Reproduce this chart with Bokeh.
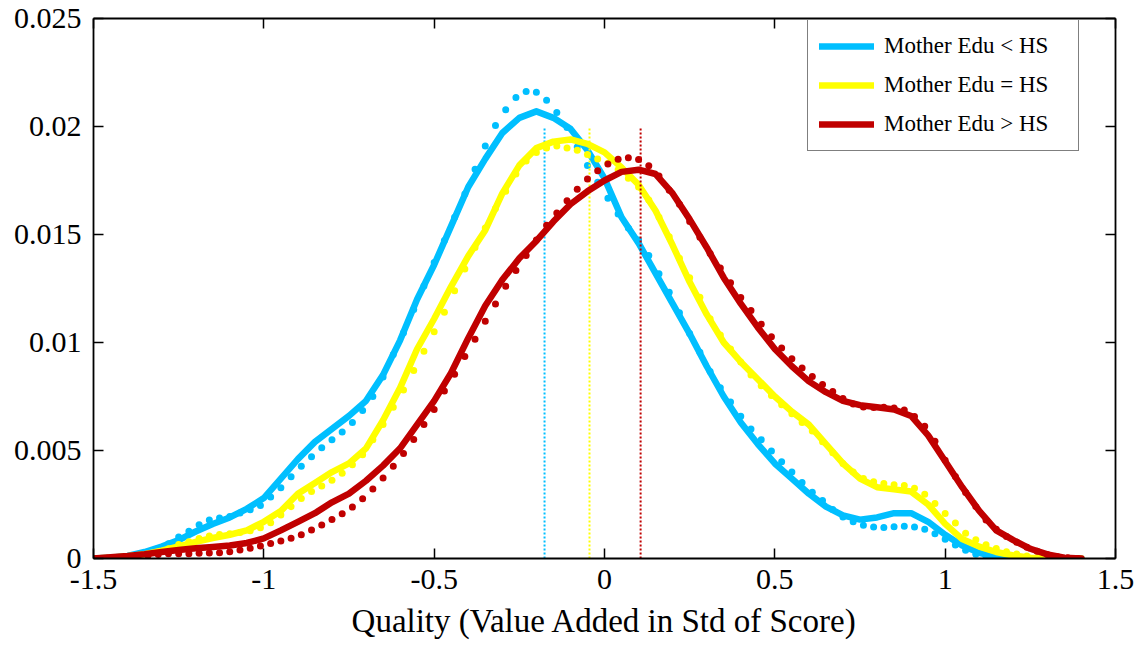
from bokeh.plotting import figure
from bokeh.models import (Range1d, LinearAxis, FixedTicker, CustomJSTickFormatter,
                          Legend, LegendItem)
from bokeh.embed import file_html
from bokeh.resources import INLINE

# ---- data -------------------------------------------------------------
series_labels = ["Mother Edu < HS", "Mother Edu = HS", "Mother Edu > HS"]
series_colors = ["#00BFFF", "#FFFF00", "#C00000"]

# smoothed density, evaluated every 0.05
x_smooth = [-1.50, -1.45, -1.40, -1.35, -1.30, -1.25, -1.20, -1.15, -1.10, -1.05,
            -1.00, -0.95, -0.90, -0.85, -0.80, -0.75, -0.70, -0.65, -0.60, -0.55,
            -0.50, -0.45, -0.40, -0.35, -0.30, -0.25, -0.20, -0.15, -0.10, -0.05,
            0.00, 0.05, 0.10, 0.15, 0.20, 0.25, 0.30, 0.35, 0.40, 0.45,
            0.50, 0.55, 0.60, 0.65, 0.70, 0.75, 0.80, 0.85, 0.90, 0.95,
            1.00, 1.05, 1.10, 1.15, 1.20, 1.25, 1.30, 1.35, 1.40]

smooth_less = [0, 0.00004, 0.00012, 0.0003, 0.00055, 0.00085, 0.00125, 0.0016, 0.0019, 0.0023,
               0.0028, 0.0037, 0.0046, 0.0054, 0.0060, 0.0066, 0.0073, 0.0085, 0.0101, 0.0120,
               0.0136, 0.0154, 0.0172, 0.0185, 0.0197, 0.0204, 0.0207, 0.0204, 0.0199, 0.0189,
               0.0176, 0.0158, 0.0146, 0.0132, 0.0118, 0.0104, 0.0089, 0.0075, 0.0063, 0.0053,
               0.0044, 0.0037, 0.0030, 0.0024, 0.0020, 0.0018, 0.0019, 0.0021, 0.0021, 0.0017,
               0.0011, 0.0006, 0.00026, 0.00007, 0.00001, 0, 0, 0, 0]

smooth_equal = [0, 0.00003, 0.0001, 0.0002, 0.00036, 0.00056, 0.00077, 0.00095, 0.0011, 0.0013,
                0.0017, 0.0022, 0.0030, 0.0035, 0.0040, 0.0044, 0.0051, 0.0064, 0.0079, 0.0097,
                0.0111, 0.0126, 0.0140, 0.0152, 0.0169, 0.0182, 0.0190, 0.0193, 0.0194, 0.0192,
                0.0188, 0.0181, 0.0173, 0.0161, 0.0145, 0.0128, 0.0113, 0.0100, 0.0091, 0.0083,
                0.0075, 0.0068, 0.0062, 0.0053, 0.0044, 0.0037, 0.0033, 0.0032, 0.0031, 0.0025,
                0.0016, 0.0009, 0.00055, 0.0003, 0.00014, 0.00004, 0.00001, 0, 0]

smooth_more = [0, 0.00006, 0.00012, 0.0002, 0.0003, 0.00039, 0.00047, 0.00053, 0.0006, 0.00072,
               0.00093, 0.0013, 0.0017, 0.0021, 0.0026, 0.0030, 0.0036, 0.0043, 0.0051, 0.0062,
               0.0073, 0.0086, 0.0102, 0.0117, 0.0129, 0.0139, 0.0147, 0.0156, 0.0164, 0.0170,
               0.0175, 0.0179, 0.0180, 0.0178, 0.0169, 0.0157, 0.0144, 0.0130, 0.0118, 0.0107,
               0.0097, 0.0089, 0.0082, 0.0077, 0.0073, 0.0071, 0.0070, 0.0069, 0.0066, 0.0057,
               0.0045, 0.0033, 0.0022, 0.0013, 0.00085, 0.00045, 0.00019, 0.00004, 0]

# raw density, evaluated every 0.03
x_raw = [-1.49, -1.46, -1.43, -1.40, -1.37, -1.34, -1.31, -1.28, -1.25, -1.22,
         -1.19, -1.16, -1.13, -1.10, -1.07, -1.04, -1.01, -0.98, -0.95, -0.92,
         -0.89, -0.86, -0.83, -0.80, -0.77, -0.74, -0.71, -0.68, -0.65, -0.62,
         -0.59, -0.56, -0.53, -0.50, -0.47, -0.44, -0.41, -0.38, -0.35, -0.32,
         -0.29, -0.26, -0.23, -0.20, -0.17, -0.14, -0.11, -0.08, -0.05, -0.02,
         0.01, 0.04, 0.07, 0.10, 0.13, 0.16, 0.19, 0.22, 0.25, 0.28,
         0.31, 0.34, 0.37, 0.40, 0.43, 0.46, 0.49, 0.52, 0.55, 0.58,
         0.61, 0.64, 0.67, 0.70, 0.73, 0.76, 0.79, 0.82, 0.85, 0.88,
         0.91, 0.94, 0.97, 1.00, 1.03, 1.06, 1.09, 1.12, 1.15, 1.18,
         1.21, 1.24, 1.27, 1.30, 1.33, 1.36, 1.39]

raw_less = [0, 0, 0.00002, 0.00006, 0.00015, 0.00028, 0.00046, 0.00068, 0.00100, 0.00126,
            0.00156, 0.00178, 0.00188, 0.00194, 0.00211, 0.00226, 0.00245, 0.00285, 0.00327, 0.00378,
            0.00427, 0.00471, 0.00513, 0.00550, 0.00586, 0.00630, 0.00685, 0.00750, 0.00840, 0.00945,
            0.01045, 0.01153, 0.01262, 0.01370, 0.01472, 0.01580, 0.01687, 0.01802, 0.01910, 0.02005,
            0.02077, 0.02134, 0.02162, 0.02158, 0.02122, 0.02065, 0.01995, 0.01905, 0.01820, 0.01742,
            0.01668, 0.01595, 0.01530, 0.01474, 0.01403, 0.01318, 0.01233, 0.01138, 0.01042, 0.00955,
            0.00866, 0.00790, 0.00725, 0.00658, 0.00600, 0.00550, 0.00498, 0.00448, 0.00400, 0.00352,
            0.00307, 0.00268, 0.00227, 0.00192, 0.00170, 0.00154, 0.00146, 0.00144, 0.00147, 0.00149,
            0.00146, 0.00135, 0.00115, 0.00089, 0.00062, 0.00038, 0.00020, 0.00008, 0.00003, 0.00001,
            0, 0, 0, 0, 0, 0, 0]

raw_equal = [0, 0, 0.00003, 0.00007, 0.00013, 0.00020, 0.00030, 0.00045, 0.00065, 0.00078,
             0.00093, 0.00104, 0.00111, 0.00115, 0.00120, 0.00129, 0.00142, 0.00165, 0.00201, 0.00240,
             0.00278, 0.00310, 0.00336, 0.00362, 0.00395, 0.00434, 0.00480, 0.00550, 0.00620, 0.00700,
             0.00780, 0.00870, 0.00960, 0.01050, 0.01140, 0.01240, 0.01340, 0.01440, 0.01530, 0.01620,
             0.01700, 0.01780, 0.01840, 0.01880, 0.01900, 0.01910, 0.01900, 0.01890, 0.01870, 0.01850,
             0.01830, 0.01800, 0.01760, 0.01720, 0.01660, 0.01580, 0.01490, 0.01390, 0.01300, 0.01210,
             0.01110, 0.01035, 0.00970, 0.00910, 0.00850, 0.00800, 0.00755, 0.00712, 0.00670, 0.00630,
             0.00590, 0.00540, 0.00490, 0.00440, 0.00400, 0.00370, 0.00355, 0.00347, 0.00342, 0.00338,
             0.00325, 0.00298, 0.00255, 0.00208, 0.00164, 0.00117, 0.00087, 0.00064, 0.00046, 0.00031,
             0.00021, 0.00011, 0.00004, 0.00001, 0, 0, 0]

raw_more = [0, 0.00001, 0.00003, 0.00005, 0.00009, 0.00014, 0.00018, 0.00022, 0.00022, 0.00022,
            0.00024, 0.00025, 0.00027, 0.00031, 0.00039, 0.00048, 0.00058, 0.00070, 0.00081, 0.00094,
            0.00110, 0.00132, 0.00155, 0.00180, 0.00207, 0.00238, 0.00277, 0.00322, 0.00373, 0.00427,
            0.00486, 0.00551, 0.00620, 0.00690, 0.00775, 0.00853, 0.00935, 0.01015, 0.01098, 0.01178,
            0.01260, 0.01333, 0.01403, 0.01475, 0.01543, 0.01600, 0.01656, 0.01710, 0.01757, 0.01795,
            0.01826, 0.01848, 0.01855, 0.01847, 0.01818, 0.01771, 0.01705, 0.01640, 0.01560, 0.01487,
            0.01412, 0.01345, 0.01277, 0.01208, 0.01148, 0.01085, 0.01027, 0.00975, 0.00925, 0.00882,
            0.00843, 0.00806, 0.00773, 0.00741, 0.00715, 0.00701, 0.00699, 0.00700, 0.00697, 0.00687,
            0.00657, 0.00612, 0.00543, 0.00455, 0.00380, 0.00305, 0.00240, 0.00178, 0.00135, 0.00102,
            0.00075, 0.00052, 0.00033, 0.00018, 0.00008, 0.00003, 0]

# group means, marked by dotted verticals up to mean_marker_top
group_means = [-0.176, -0.044, 0.106]
mean_marker_top = 0.02

x_ticks = [-1.5, -1.0, -0.5, 0.0, 0.5, 1.0, 1.5]
y_ticks = [0.0, 0.005, 0.01, 0.015, 0.02, 0.025]

FONT = "Liberation Serif"

# ---- figure -----------------------------------------------------------
p = figure(width=1138, height=648, output_backend="svg", toolbar_location=None,
           x_range=Range1d(-1.5, 1.5), y_range=Range1d(0, 0.025),
           min_border_left=93, min_border_right=23, min_border_top=18,
           min_border_bottom=90, background_fill_color="white",
           border_fill_color="white")
p.grid.visible = False
p.outline_line_color = None

x_fmt = CustomJSTickFormatter(code="return tick.toFixed(1).replace(/0+$/, '').replace(/\\.$/, '');")
y_fmt = CustomJSTickFormatter(code="return tick.toFixed(3).replace(/0+$/, '').replace(/\\.$/, '');")


def style_axis(ax, ticks, fmt, show_labels, standoff):
    ax.ticker = FixedTicker(ticks=ticks)
    ax.formatter = fmt
    ax.axis_line_color = "black"
    ax.axis_line_width = 1.8
    ax.major_tick_line_color = "black"
    ax.major_tick_line_width = 1.5
    ax.major_tick_in = 10
    ax.major_tick_out = 0
    ax.minor_tick_line_color = None
    ax.major_label_text_font = FONT
    ax.major_label_text_color = "black"
    ax.major_label_standoff = standoff
    if show_labels:
        ax.major_label_text_font_size = "30px"
    else:
        ax.major_label_text_font_size = "0px"
        ax.major_label_text_alpha = 0


xb = p.xaxis[0]
style_axis(xb, x_ticks, x_fmt, True, 11)
xb.axis_label = "Quality (Value Added in Std of Score)"
xb.axis_label_text_font = FONT
xb.axis_label_text_font_size = "33px"
xb.axis_label_text_font_style = "normal"
xb.axis_label_text_color = "black"
xb.axis_label_standoff = 11

yl = p.yaxis[0]
style_axis(yl, y_ticks, y_fmt, True, 12)

xt = LinearAxis()
style_axis(xt, x_ticks, x_fmt, False, 0)
p.add_layout(xt, "above")
yr = LinearAxis()
style_axis(yr, y_ticks, y_fmt, False, 0)
p.add_layout(yr, "right")

# ---- curves -----------------------------------------------------------
smooth_sets = [smooth_less, smooth_equal, smooth_more]
raw_sets = [raw_less, raw_equal, raw_more]
legend_items = []
for label, color, ys, yr_raw, m in zip(series_labels, series_colors,
                                        smooth_sets, raw_sets, group_means):
    line = p.line(x_smooth, ys, line_color=color, line_width=6.5,
                  line_join="round", line_cap="round")
    p.scatter(x_raw, yr_raw, size=7, fill_color=color, line_color=color,
              line_width=0)
    p.segment(x0=[m], y0=[0], x1=[m], y1=[mean_marker_top], line_color=color,
              line_width=2, line_dash="2 2")
    legend_items.append(LegendItem(label=label, renderers=[line]))

legend = Legend(items=legend_items, location=(714, 407),
                label_text_font=FONT, label_text_font_size="23px",
                label_text_color="black",
                glyph_width=55, glyph_height=30, label_height=30,
                label_width=183, label_standoff=10, spacing=9,
                padding=11, margin=0,
                border_line_color="black", border_line_width=1.5,
                background_fill_color="white", background_fill_alpha=1.0)
p.add_layout(legend)

open("out.html", "w").write(file_html(p, INLINE))
